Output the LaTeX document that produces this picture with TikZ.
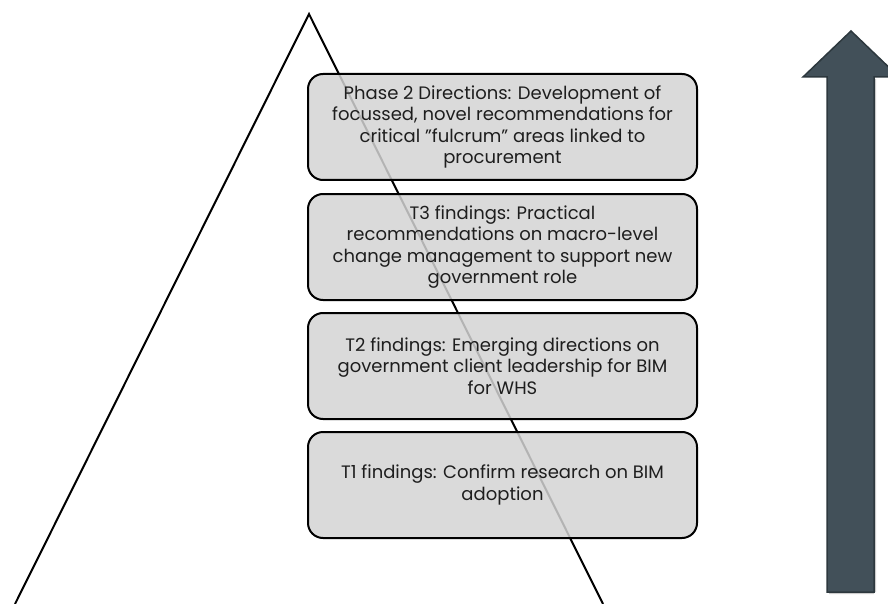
\documentclass[tikz,border=0pt]{standalone}
\usepackage{fontspec}
\setmainfont{Poppins}
\definecolor{boxgray}{RGB}{211,211,211}
\definecolor{textgray}{RGB}{30,30,30}
\definecolor{arrowfill}{RGB}{66,80,89}
\definecolor{arrowedge}{RGB}{45,56,62}
\begin{document}
\begin{tikzpicture}[x=1pt,y=-1pt,
  box/.style={draw=black, line width=2pt, rounded corners=15pt, fill=boxgray,
    fill opacity=0.85, text opacity=1, minimum width=389pt, minimum height=106pt,
    align=center, font=\fontsize{18}{21.5}\selectfont, text=textgray, inner sep=0pt},
  edge/.style={draw=black, line width=2pt}]
\useasboundingbox (0,0) rectangle (888,604);
\clip (0,0) rectangle (888,604);
% pyramid
\coordinate (apex) at (309,14);
\coordinate (bl) at (15,604);
\coordinate (br) at (603,604);
\draw[edge] (bl) -- (apex) -- (br);
% boxes
\node[box] (p2) at (502.5,127) {Phase 2 Directions: Development of\\focussed, novel recommendations for\\critical "fulcrum" areas linked to\\procurement};
\node[box] (t3) at (502.5,247) {T3 findings: Practical\\recommendations on macro-level\\change management to support new\\government role};
\node[box] (t2) at (502.5,366) {T2 findings: Emerging directions on\\government client leadership for BIM\\for WHS};
\node[box] (t1) at (502.5,485) {T1 findings: Confirm research on BIM\\adoption};
% arrow
\fill[gray!40] (829,594) -- (829,592) -- (876,592) -- (876,79) -- (874,79) -- (874,594) -- cycle;
\draw[fill=arrowfill, draw=arrowedge, line width=1.5pt, line join=miter]
  (827,592) -- (827,77) -- (803,77) -- (851,31) -- (899,77) -- (874,77) -- (874,592) -- cycle;
\end{tikzpicture}
\end{document}
